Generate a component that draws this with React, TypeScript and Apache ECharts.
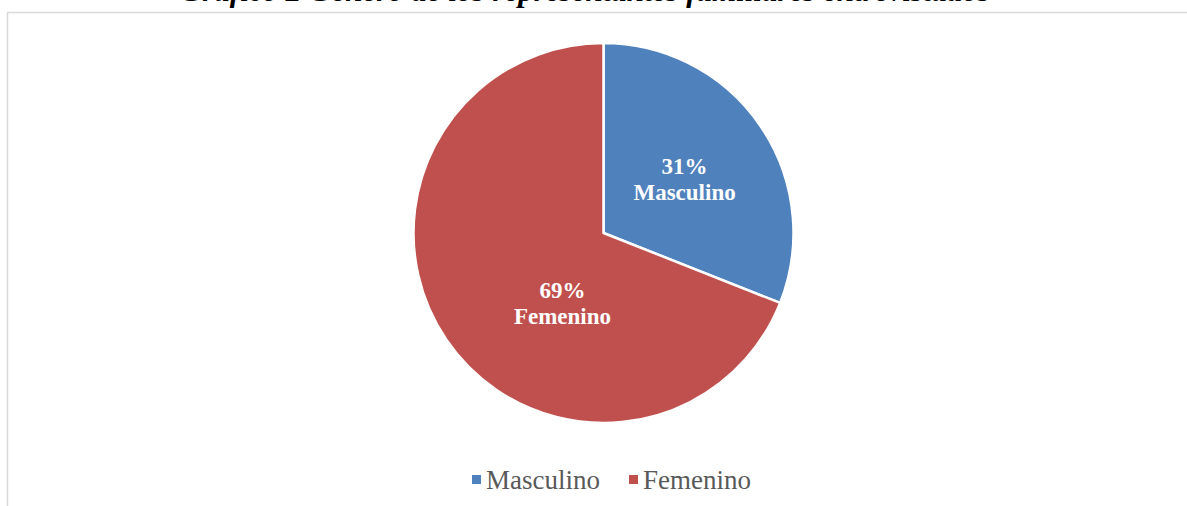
import React, { useEffect, useRef } from "react";
import * as echarts from "echarts";

const categories = ["Masculino", "Femenino"];
const values = [31, 69];
const colors = ["#4F81BD", "#C0504D"];
const titleText = "Gráfico 2 Género de los representantes familiares entrevistados";

export default function App() {
  const ref = useRef<HTMLDivElement>(null);
  useEffect(() => {
    if (!ref.current) return;
    const chart = echarts.init(ref.current, null, { renderer: "svg" });
    const serif = "'Liberation Serif', 'Times New Roman', serif";
    const labelShift = [
      { dx: 0, dy: 2 },
      { dx: 40, dy: 15 },
    ];
    chart.setOption({
      animation: false,
      backgroundColor: "#ffffff",
      color: colors,
      graphic: [
        {
          type: "rect",
          shape: { x: 7.5, y: 12.5, width: 1300, height: 600 },
          style: { fill: "none", stroke: "#d9d9d9", lineWidth: 1.5 },
          silent: true,
        },
        {
          type: "text",
          x: 585,
          y: 6,
          style: {
            text: titleText,
            font: `italic bold 31px ${serif}`,
            fill: "#000000",
            align: "center",
            verticalAlign: "bottom",
          },
          silent: true,
        },
      ],
      legend: {
        data: categories,
        left: 467,
        top: 461,
        icon: "rect",
        itemWidth: 9,
        itemHeight: 9,
        itemGap: 29,
        itemStyle: { borderWidth: 0 },
        textStyle: { fontFamily: serif, fontSize: 27, color: "#595959" },
      },
      series: [
        {
          type: "pie",
          center: [603.5, 233],
          radius: [0, 190],
          startAngle: 90,
          clockwise: true,
          data: categories.map((c, i) => ({ name: c, value: values[i] })),
          itemStyle: { borderColor: "#ffffff", borderWidth: 2.5 },
          label: {
            show: true,
            position: "inside",
            formatter: (p: any) => `${p.value}%\n${p.name}`,
            color: "#ffffff",
            fontFamily: serif,
            fontWeight: "bold",
            fontSize: 23,
            lineHeight: 26,
            align: "center",
          },
          labelLayout: (params: any) => labelShift[params.dataIndex] || {},
          labelLine: { show: false },
          emphasis: { disabled: true },
        },
      ],
    });
    return () => chart.dispose();
  }, []);
  return (
    <div
      ref={ref}
      style={{ position: "absolute", left: 0, top: 0, width: 1187, height: 506 }}
    />
  );
}
